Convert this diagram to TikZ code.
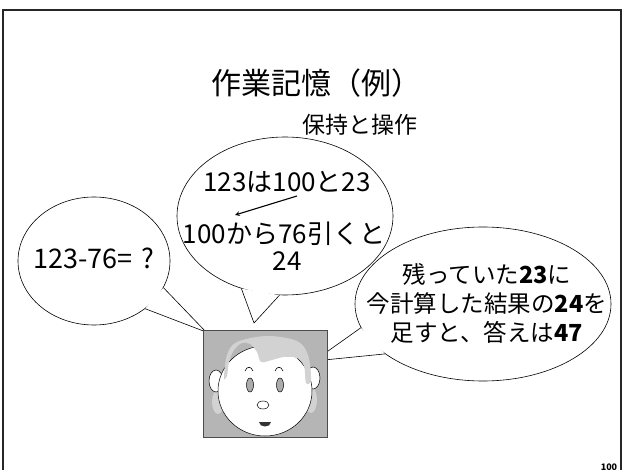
\documentclass[tikz,border=0pt]{standalone}
\usepackage{fontspec}
\setmainfont{Noto Sans CJK JP}
\usetikzlibrary{shapes.geometric}
\begin{document}
\begin{tikzpicture}[x=1pt,y=-1pt,
  bubble/.style={ellipse, draw=black, fill=white, line width=0.6pt, inner sep=0pt},
  tailline/.style={line width=0.6pt, line join=round},
  talk/.style={font=\fontsize{26}{29}\selectfont, inner sep=0pt, align=center},
  skin/.style={fill=white, draw=black, line width=0.5pt},
  hairtone/.style={fill=gray!35},
  eye/.style={fill=gray!65, draw=black, line width=0.5pt}]
\useasboundingbox (0,0) rectangle (624,470);
\fill[white] (0,0) rectangle (624,470);

% slide frame, open at the bottom
\draw[line width=1.4pt, black!85] (3,470) -- (3,10) -- (621,10) -- (621,470);

% headings
\node[font=\fontsize{30}{34}\selectfont, inner sep=0pt] (title) at (316,83) {作業記憶（例）};
\node[font=\fontsize{23}{27}\selectfont, inner sep=0pt] (sub) at (360,125) {保持と操作};

% left bubble
\node[bubble, minimum width=152, minimum height=128] (lb) at (94,261) {};
\coordinate (ltip) at (206,332);
\fill[white] (lb.-43) -- (ltip) -- (lb.-21) -- cycle;
\draw[tailline] (lb.-43) -- (ltip) -- (lb.-21);

% centre bubble
\node[bubble, minimum width=216, minimum height=158] (cb) at (285,216) {};
\coordinate (ctip) at (254,323);
\fill[white] (cb.-121) -- (ctip) -- (cb.-94) -- cycle;
\draw[tailline] (cb.-121) -- (ctip) -- (cb.-94);

% right bubble
\node[bubble, minimum width=256, minimum height=154] (rb) at (483,304) {};
\coordinate (rtip) at (314,361);
\fill[white] (rb.-169) -- (rtip) -- (rb.-153) -- cycle;
\draw[tailline] (rb.-169) -- (rtip) -- (rb.-153);

% bubble texts
\node[talk, font=\fontsize{27}{29}\selectfont] (lt) at (94,258) {123-76=\,\,?};
\node[talk] (c1) at (287,182) {123は100と23};
\node[talk] (c2) at (284,234) {100から76引くと};
\node[talk] (c3) at (287,261) {24};
\coordinate (af) at (297,196);
\coordinate (at) at (235,215);
\draw[line width=1.1pt, -stealth] (af) -- (at);
\node[talk, font=\fontsize{23.5}{29}\selectfont] (rt) at (487,303) {残っていた\textbf{23}に\\今計算した結果の\textbf{24}を\\足すと、答えは\textbf{47}};

% face picture
\node[draw=black!70, fill=gray!58, line width=0.5pt, minimum width=124, minimum height=107, inner sep=0pt] (face) at (265,383.5) {};
\fill[hairtone] (218,402) ellipse [x radius=6, y radius=12];
\fill[hairtone] (311,400) ellipse [x radius=6, y radius=13];
\draw[skin] (216,381) ellipse [x radius=7, y radius=11];
\draw[skin] (313,378) ellipse [x radius=7, y radius=11];
\draw[skin] (265,391) ellipse [x radius=47, y radius=45];
\fill[hairtone] plot[smooth cycle, tension=0.55] coordinates {
  (224,378) (227,355) (237,342) (267,336) (297,341) (308,355) (311,380)
  (306,383) (304,366) (297,358) (284,357) (272,360) (261,362) (257,352)
  (250,344) (242,343) (234,350) (229,362) (227,376)};
\draw[line width=0.6pt] (245,371) .. controls (247,366) and (251,366) .. (253,371);
\draw[line width=0.6pt] (275,371) .. controls (277,366) and (281,366) .. (283,371);
\draw[eye] (250,385) ellipse [x radius=3.5, y radius=7];
\draw[eye] (280,385) ellipse [x radius=3.5, y radius=7];
\draw[skin] (263,405) ellipse [x radius=6, y radius=4];
\fill[black!80] (259,422) .. controls (259,428) and (271,428) .. (271,422) -- cycle;

% page number
\node[font=\fontsize{9}{10}\selectfont\bfseries, inner sep=0pt] (pg) at (609,467) {100};
\end{tikzpicture}
\end{document}
